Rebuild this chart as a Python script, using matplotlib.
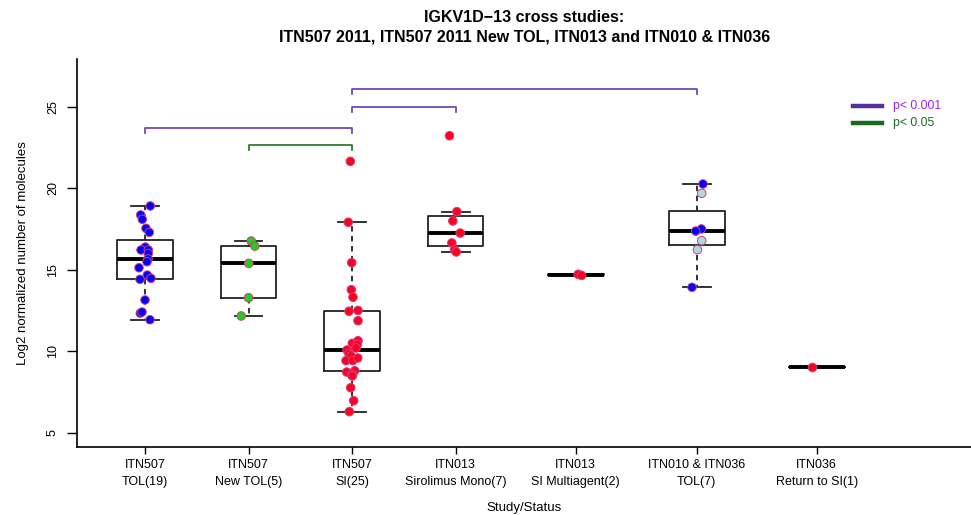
import numpy as np
import matplotlib
matplotlib.use("Agg")
import matplotlib.pyplot as plt
from matplotlib.lines import Line2D

plt.rcParams['font.family'] = ['Liberation Sans', 'DejaVu Sans']

# ---- data ----
categories = ["ITN507\nTOL(19)", "ITN507\nNew TOL(5)", "ITN507\nSI(25)",
              "ITN013\nSirolimus Mono(7)", "ITN013\nSI Multiagent(2)",
              "ITN010 & ITN036\nTOL(7)", "ITN036\nReturn to SI(1)"]
positions = [1, 2, 3, 4, 5.16, 6.33, 7.49]

tol19 = [18.91, 18.36, 18.09, 17.54, 17.29, 16.39, 16.21, 16.21, 16.0, 15.66,
         15.49, 15.12, 14.67, 14.41, 14.47, 13.14, 12.33, 11.93, 12.4]
tol19_dx = [5.3, -4.3, -2.7, 1, 4.3, 0.3, -4, 3.3, 3.3, 3, 2, -6, 2.3, -5, 6,
            0, -4.7, 5, -3]
newtol5 = [16.76, 16.45, 15.39, 13.28, 12.16]
newtol5_dx = [2.7, 6.3, 0.3, 0, -7.3]
si25 = [21.65, 17.91, 15.43, 13.77, 13.31, 12.45, 12.50, 11.87, 10.48, 10.64,
        10.42, 10.2, 10.07, 9.83, 9.7, 9.42, 9.42, 9.58, 8.80, 8.72, 8.6, 8.48,
        7.76, 6.96, 6.29]
si25_dx = [-1.7, -3.7, -0.3, -0.7, 1, -3, 6, 6, 0.3, 6, 5.3, 4, -5, -3, -1,
           -6, 0.7, 5.7, 2.7, -5.3, 0, 0.3, -1.3, 1.7, -2.7]
siro7 = [23.22, 18.56, 17.99, 17.25, 16.64, 16.21, 16.09]
siro7_dx = [-6, 1.3, -2.7, 4.7, -3.7, -1, 0.7]
multi2 = [14.72, 14.65]
multi2_dx = [2.6, 6]
tol7 = [20.26, 19.69, 17.5, 17.37, 16.78, 16.23, 13.92]
tol7_dx = [6.3, 5, 4.7, -1, 5, 0.7, -4.7]
tol7_kind = ["blue", "light", "blue", "blue", "light", "light", "blue"]
rts1 = [9.01]
rts1_dx = [-4.4]

groups = [tol19, newtol5, si25, siro7, multi2, tol7, rts1]
group_dx = [tol19_dx, newtol5_dx, si25_dx, siro7_dx, multi2_dx, tol7_dx, rts1_dx]
group_colors = [["#0000FF"] * 19, ["#22CC22"] * 5, ["#FF0022"] * 25,
                ["#FF0022"] * 7, ["#FF0022"] * 2,
                ["#0000FF" if k == "blue" else "#ADD8E6" for k in tol7_kind],
                ["#FF0022"]]

# brackets: (group a, group b, height, kind)
brackets = [(0, 2, 23.67, "p001"), (1, 2, 22.65, "p05"),
            (2, 3, 24.96, "p001"), (2, 5, 26.09, "p001")]
bracket_colors = {"p001": "#7447B8", "p05": "#2F7F2F"}
legend_labels = ["p< 0.001", "p< 0.05"]
legend_line_colors = ["#55309A", "#1C6B1C"]
legend_text_colors = ["#A020F0", "#1C6B1C"]

yticks = [5, 10, 15, 20, 25]
title_lines = ["IGKV1D\u221213 cross studies:",
               "ITN507 2011, ITN507 2011 New TOL, ITN013 and ITN010 & ITN036"]


def fivenum(v):
    x = np.sort(np.asarray(v, float))
    n = len(x)
    n4 = np.floor((n + 3) / 2) / 2
    d = np.array([1, n4, (n + 1) / 2, n + 1 - n4, n]) - 1
    return 0.5 * (x[np.floor(d).astype(int)] + x[np.ceil(d).astype(int)])


def box_stats(v):
    mn, q1, med, q3, mx = fivenum(v)
    iqr = q3 - q1
    arr = np.asarray(v, float)
    lo = arr[arr >= q1 - 1.5 * iqr].min()
    hi = arr[arr <= q3 + 1.5 * iqr].max()
    return dict(med=med, q1=q1, q3=q3, whislo=lo, whishi=hi, fliers=[])


fig = plt.figure(figsize=(9.71, 5.15), dpi=100)
ax = fig.add_axes([77 / 971, 1 - 447 / 515, (971 - 77) / 971, (447 - 59) / 515])

stats = [box_stats(g) for g in groups]
ax.bxp(stats, positions=positions, widths=0.54, showfliers=False,
       boxprops=dict(color="#222222", lw=1.3),
       medianprops=dict(color="black", lw=2.8, solid_capstyle="butt"),
       whiskerprops=dict(color="#222222", lw=1.3, ls=(0, (3, 2.5))),
       capprops=dict(color="#222222", lw=1.3),
       capwidths=0.27, manage_ticks=False)

px = 103.5  # pixels per category unit (for jitter offsets read in pixels)
for pos, vals, dxs, cols in zip(positions, groups, group_dx, group_colors):
    xs = [pos + d / px for d in dxs]
    ax.scatter(xs, vals, s=38, c=cols, edgecolors="#D0407A", linewidths=0.7,
               zorder=5)

for a, b, h, kind in brackets:
    xa, xb = positions[a], positions[b]
    ax.plot([xa, xa, xb, xb], [h - 0.3, h, h, h - 0.3],
            color=bracket_colors[kind], lw=1.3, zorder=4)

ax.set_xlim(0.343, 8.98)
ax.set_ylim(4.12, 27.93)
ax.set_xticks(positions)
ax.set_xticklabels(categories, fontsize=9, linespacing=1.5)
ax.set_yticks(yticks)
ax.set_yticklabels([str(t) for t in yticks], fontsize=9, rotation=90,
                   va="center")
ax.tick_params(axis="y", length=7, width=1, pad=6)
ax.tick_params(axis="x", length=5, width=1, pad=4)
for s in ["top", "right"]:
    ax.spines[s].set_visible(False)
for s in ["left", "bottom"]:
    ax.spines[s].set_linewidth(1.2)

ax.set_ylabel("Log2 normalized number of molecules", fontsize=9.5, labelpad=13)
ax.set_xlabel("Study/Status", fontsize=9.5, labelpad=10)
for i, line in enumerate(title_lines):
    fig.text(0.54, 1 - (17 + 20 * i) / 515, line, ha="center", va="center",
             fontsize=11.5, fontweight="bold")

# legend drawn manually
for i, (lab, lc, tc) in enumerate(zip(legend_labels, legend_line_colors,
                                      legend_text_colors)):
    y = 1 - (105.5 + 17.5 * i) / 515
    fig.add_artist(Line2D([853 / 971, 882 / 971], [y, y], color=lc, lw=3.2))
    fig.text(893 / 971, y, lab, color=tc, fontsize=8.8, va="center",
             ha="left")

fig.savefig("out.png", dpi=100)
